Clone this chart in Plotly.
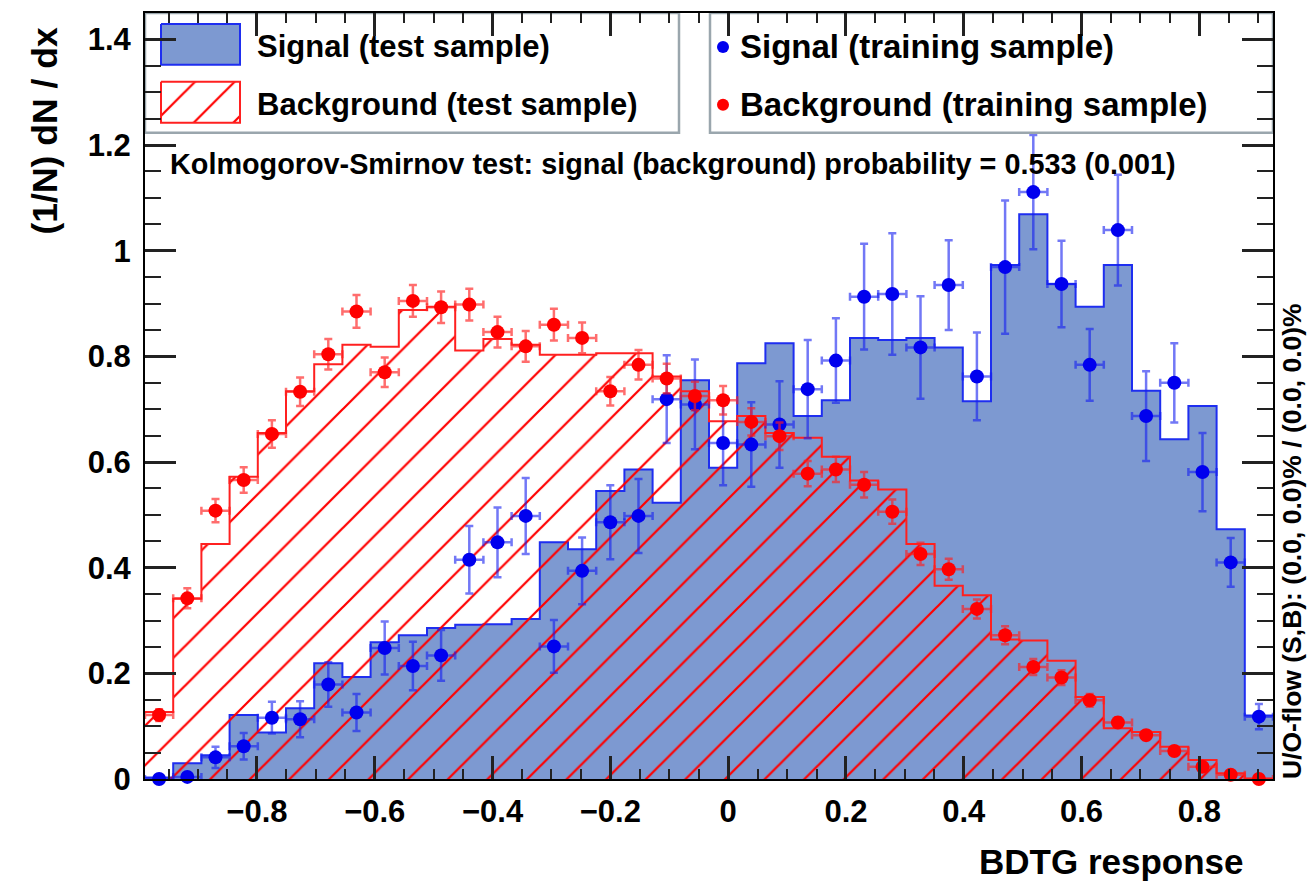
import numpy as np
import plotly.graph_objects as go

# ---------------- data ----------------
# BDTG response binning
X_LO, X_HI, N_BINS = -0.99, 0.925, 40

# normalised test-sample histograms (1/N dN/dx)
sig_test = [0.003, 0.030, 0.045, 0.121, 0.088, 0.134, 0.219, 0.193, 0.259, 0.272,
            0.286, 0.292, 0.293, 0.303, 0.448, 0.435, 0.545, 0.586, 0.523, 0.755,
            0.589, 0.787, 0.825, 0.687, 0.717, 0.835, 0.831, 0.835, 0.817, 0.715,
            0.973, 1.069, 0.937, 0.894, 0.973, 0.735, 0.643, 0.706, 0.473, 0.120]
bkg_test = [0.127, 0.341, 0.445, 0.572, 0.655, 0.734, 0.785, 0.822, 0.818, 0.888,
            0.894, 0.811, 0.833, 0.822, 0.803, 0.803, 0.806, 0.806, 0.762, 0.734,
            0.677, 0.687, 0.655, 0.646, 0.610, 0.565, 0.548, 0.445, 0.366, 0.348,
            0.264, 0.262, 0.224, 0.155, 0.096, 0.089, 0.061, 0.036, 0.011, 0.001]

# training-sample points with statistical errors
sig_train = [0.000, 0.004, 0.041, 0.062, 0.116, 0.113, 0.179, 0.126, 0.248, 0.214,
             0.234, 0.415, 0.448, 0.498, 0.251, 0.394, 0.486, 0.498, 0.719, 0.709,
             0.636, 0.633, 0.671, 0.738, 0.792, 0.913, 0.918, 0.817, 0.935, 0.762,
             0.969, 1.111, 0.937, 0.784, 1.039, 0.687, 0.750, 0.581, 0.410, 0.118]
sig_train_err = [0.004, 0.006, 0.020, 0.025, 0.030, 0.034, 0.042, 0.035, 0.050, 0.046,
                 0.048, 0.064, 0.066, 0.072, 0.050, 0.063, 0.070, 0.070, 0.083, 0.085,
                 0.080, 0.080, 0.082, 0.093, 0.080, 0.100, 0.115, 0.097, 0.085, 0.083,
                 0.126, 0.108, 0.082, 0.068, 0.105, 0.085, 0.075, 0.074, 0.046, 0.024]
bkg_train = [0.121, 0.342, 0.508, 0.566, 0.653, 0.733, 0.804, 0.885, 0.770, 0.905,
             0.893, 0.898, 0.846, 0.819, 0.860, 0.835, 0.734, 0.784, 0.758, 0.725,
             0.717, 0.676, 0.649, 0.578, 0.586, 0.557, 0.506, 0.426, 0.397, 0.322,
             0.272, 0.212, 0.192, 0.149, 0.107, 0.083, 0.053, 0.023, 0.008, 0.000]
bkg_train_err = [0.011, 0.019, 0.022, 0.024, 0.026, 0.027, 0.029, 0.031, 0.028, 0.030,
                 0.030, 0.030, 0.029, 0.029, 0.030, 0.029, 0.027, 0.028, 0.028, 0.027,
                 0.027, 0.026, 0.026, 0.024, 0.024, 0.024, 0.023, 0.021, 0.020, 0.018,
                 0.017, 0.015, 0.014, 0.012, 0.010, 0.009, 0.007, 0.005, 0.003, 0.002]

ks_text = "Kolmogorov-Smirnov test: signal (background) probability = 0.533 (0.001)"
uo_text = "U/O-flow (S,B): (0.0, 0.0)% / (0.0, 0.0)%"
legend_labels = ["Signal (test sample)", "Background (test sample)",
                 "Signal (training sample)", "Background (training sample)"]

# ---------------- styles ----------------
SIG_FILL = "#7d99d1"
SIG_LINE = "#1e2ef0"
SIG_MARK = "#0000ee"
BKG_LINE = "#ff2020"
HATCH = dict(shape="/", size=28, solidity=0.08, fgcolor="#ff0000", fgopacity=1)
FONT = "Liberation Sans, Arial, Helvetica, sans-serif"

W, H = 1309, 889
L, R, T, B = 145, 1273, 11, 779          # plot frame in pixels
Y_MAX = 1.45


def px_x(px):
    return (px - L) / (R - L)


def px_y(py):
    return (B - py) / (B - T)


edges = np.linspace(X_LO, X_HI, N_BINS + 1)
centers = 0.5 * (edges[:-1] + edges[1:])
half_w = 0.5 * (edges[1] - edges[0])

fig = go.Figure()

# signal test histogram (filled)
fig.add_trace(go.Scatter(
    x=edges, y=np.append(sig_test, sig_test[-1]), mode="lines",
    line=dict(shape="hv", color=SIG_LINE, width=2),
    fill="tozeroy", fillcolor=SIG_FILL, showlegend=False, hoverinfo="skip"))

# background test histogram (hatched)
fig.add_trace(go.Scatter(
    x=edges, y=np.append(bkg_test, bkg_test[-1]), mode="lines",
    line=dict(shape="hv", color=BKG_LINE, width=2),
    fill="tozeroy", fillcolor="rgba(0,0,0,0)",
    fillpattern=dict(HATCH, bgcolor="rgba(0,0,0,0)"),
    showlegend=False, hoverinfo="skip"))

# training samples as points with error bars
for vals, errs, col, ecol in [(sig_train, sig_train_err, SIG_MARK, "rgba(20,30,240,0.6)"),
                              (bkg_train, bkg_train_err, "#ff0000", "rgba(255,30,30,0.65)")]:
    fig.add_trace(go.Scatter(
        x=centers, y=vals, mode="markers",
        marker=dict(color=col, size=14, line=dict(width=0)),
        error_y=dict(type="data", array=errs, color=ecol, thickness=2.5, width=4),
        error_x=dict(type="constant", value=half_w, color=ecol, thickness=2.5, width=4),
        cliponaxis=False, showlegend=False, hoverinfo="skip"))

# ---------------- legend (pixel overlay axes) ----------------
def rect(x0, x1, y0, y1):
    return [x0, x1, x1, x0, x0], [y0, y0, y1, y1, y0]


for (x0, x1) in [(L, 679), (710, R)]:
    xs, ys = rect(x0, x1, T, 131)
    fig.add_trace(go.Scatter(x=xs, y=ys, xaxis="x2", yaxis="y2", mode="lines",
                             fill="toself", fillcolor="white",
                             line=dict(color="#9aa6ad", width=2.5),
                             showlegend=False, hoverinfo="skip"))

xs, ys = rect(161, 240, 22, 63)
fig.add_trace(go.Scatter(x=xs, y=ys, xaxis="x2", yaxis="y2", mode="lines",
                         fill="toself", fillcolor=SIG_FILL,
                         line=dict(color=SIG_LINE, width=2),
                         showlegend=False, hoverinfo="skip"))
xs, ys = rect(161, 240, 80, 121)
fig.add_trace(go.Scatter(x=xs, y=ys, xaxis="x2", yaxis="y2", mode="lines",
                         fill="toself", fillcolor="rgba(0,0,0,0)",
                         fillpattern=dict(HATCH, bgcolor="white"),
                         line=dict(color=BKG_LINE, width=2),
                         showlegend=False, hoverinfo="skip"))
fig.add_trace(go.Scatter(x=[723, 723], y=[45, 103], xaxis="x2", yaxis="y2", mode="markers",
                         marker=dict(color=[SIG_MARK, "#ff0000"], size=12),
                         showlegend=False, hoverinfo="skip"))

annotations = []
for label, (px, py), fs in zip(legend_labels,
                               [(255, 45), (255, 103), (738, 45), (738, 103)],
                               [31, 31, 33, 33]):
    annotations.append(dict(text=label, x=px_x(px), y=px_y(py), xref="paper", yref="paper",
                            xanchor="left", yanchor="middle", showarrow=False,
                            font=dict(family=FONT, size=fs, color="black", weight="bold")))

annotations.append(dict(text=ks_text, x=px_x(168), y=px_y(162), xref="paper", yref="paper",
                        xanchor="left", yanchor="middle", showarrow=False,
                        font=dict(family=FONT, size=28.8, color="black", weight="bold")))
annotations.append(dict(text="BDTG response", x=px_x(1246), y=px_y(862), xref="paper",
                        yref="paper", xanchor="right", yanchor="middle", showarrow=False,
                        font=dict(family=FONT, size=35, color="black", weight="bold")))
annotations.append(dict(text="(1/N) dN / dx", x=px_x(45), y=px_y(24), xref="paper",
                        yref="paper", xanchor="center", yanchor="top", textangle=-90,
                        showarrow=False,
                        font=dict(family=FONT, size=35.5, color="black", weight="bold")))
annotations.append(dict(text=uo_text, x=px_x(1292), y=px_y(781), xref="paper",
                        yref="paper", xanchor="center", yanchor="bottom", textangle=-90,
                        showarrow=False,
                        font=dict(family=FONT, size=26.5, color="black", weight="bold")))

axis_common = dict(showgrid=False, zeroline=False, showline=True, linecolor="black",
                   linewidth=2, mirror="ticks", ticks="inside", tickcolor="#222",
                   tickwidth=2.5)

fig.update_layout(
    width=W, height=H,
    margin=dict(l=L, r=W - R, t=T, b=H - B, pad=0),
    paper_bgcolor="white", plot_bgcolor="white",
    font=dict(family=FONT, color="black"),
    xaxis=dict(range=[X_LO, X_HI], dtick=0.2, tick0=0, ticklen=23,
               minor=dict(ticks="inside", dtick=0.05, ticklen=10, tickwidth=2,
                          tickcolor="#222"),
               tickfont=dict(size=31, weight="bold"), ticklabelstandoff=4,
               **axis_common),
    yaxis=dict(range=[0, Y_MAX], dtick=0.2, tick0=0, ticklen=31,
               minor=dict(ticks="inside", dtick=0.05, ticklen=16, tickwidth=2,
                          tickcolor="#222"),
               tickfont=dict(size=31, weight="bold"), ticklabelstandoff=6,
               **axis_common),
    xaxis2=dict(overlaying="x", range=[L, R], visible=False, fixedrange=True),
    yaxis2=dict(overlaying="y", range=[B, T], visible=False, fixedrange=True),
    annotations=annotations,
    showlegend=False,
)

fig.write_html("out.html")
